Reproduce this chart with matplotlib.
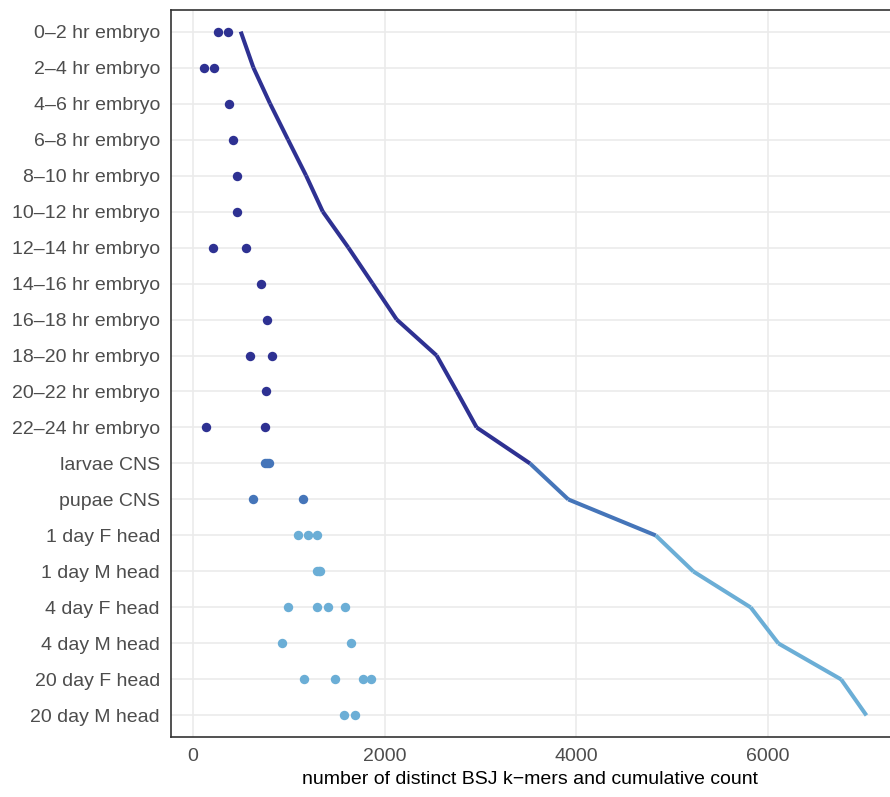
import numpy as np
import matplotlib.pyplot as plt

plt.rcParams["font.family"] = ["Liberation Sans", "DejaVu Sans"]

# samples, top to bottom
samples = [
    "0\u20132 hr embryo", "2\u20134 hr embryo", "4\u20136 hr embryo", "6\u20138 hr embryo",
    "8\u201310 hr embryo", "10\u201312 hr embryo", "12\u201314 hr embryo", "14\u201316 hr embryo",
    "16\u201318 hr embryo", "18\u201320 hr embryo", "20\u201322 hr embryo", "22\u201324 hr embryo",
    "larvae CNS", "pupae CNS", "1 day F head", "1 day M head",
    "4 day F head", "4 day M head", "20 day F head", "20 day M head",
]
stage = ["embryo"] * 12 + ["CNS"] * 2 + ["head"] * 6

# distinct BSJ k-mers per replicate
replicates = [
    [258, 362], [112, 222], [376], [414], [459], [456], [206, 550], [707],
    [776], [598, 821], [762], [133, 755], [752, 770, 790], [626, 1151],
    [1092, 1203, 1289], [1294, 1310, 1323], [992, 1289, 1404, 1586],
    [934, 1648], [1154, 1480, 1778, 1859], [1572, 1687],
]

# cumulative distinct k-mers
cumulative = [498, 630, 804, 991, 1180, 1354, 1621, 1874, 2126, 2543,
              2754, 2961, 3518, 3918, 4831, 5223, 5822, 6111, 6766, 7030]

stage_colors = {"embryo": "#2e3192", "CNS": "#4575b9", "head": "#6baed6"}

fig = plt.figure(figsize=(8.9, 7.97), dpi=100)
ax = fig.add_axes([171 / 890, 1 - 737 / 797, 1 - 171 / 890, 727 / 797])

rows = np.arange(1, len(samples) + 1)

for i, (vals, st) in enumerate(zip(replicates, stage)):
    ax.scatter(vals, [rows[i]] * len(vals), s=46, color=stage_colors[st],
               linewidths=0, zorder=3)

# each segment takes the colour of its starting sample
for i in range(len(cumulative) - 1):
    ax.plot(cumulative[i:i + 2], rows[i:i + 2], color=stage_colors[stage[i]],
            lw=2.9, solid_capstyle="butt", zorder=2)

ax.set_xlim(-230, 7276)
ax.set_ylim(len(samples) + 0.6, 0.4)
ax.set_xticks([0, 2000, 4000, 6000])
ax.set_yticks(rows)
ax.set_yticklabels(samples)
ax.grid(True, color="#ebebeb", lw=1.2, zorder=0)
ax.set_axisbelow(True)
ax.tick_params(length=0, labelsize=14, colors="#4d4d4d", pad=8)
ax.tick_params(axis="x", pad=8)
for side in ["left", "top", "bottom"]:
    ax.spines[side].set_color("#333333")
    ax.spines[side].set_linewidth(1.2)
ax.spines["right"].set_visible(False)
ax.set_xlabel("number of distinct BSJ k\u2212mers and cumulative count",
              fontsize=14, color="black", labelpad=4)

fig.savefig("out.png", dpi=100)
